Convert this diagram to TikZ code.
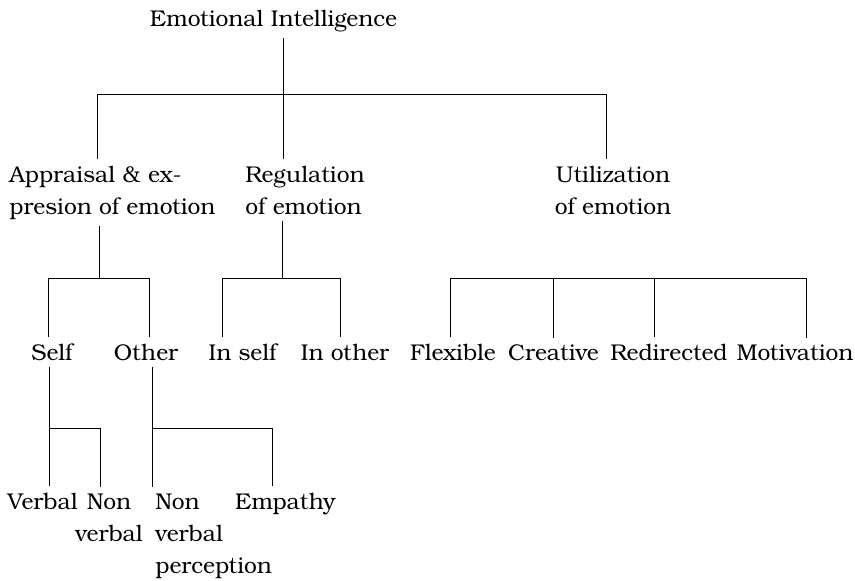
\documentclass[tikz,border=0pt]{standalone}
\usepackage{fontspec}
\setmainfont{TeX Gyre Bonum}
\usetikzlibrary{positioning,calc}
\begin{document}
\begin{tikzpicture}[
      x=0.5pt, y=-0.5pt,
      lbl/.style={inner xsep=0pt, inner ysep=3pt, font=\fontsize{11.4}{16}\selectfont},
      conn/.style={line width=0.4pt}]
    \useasboundingbox (0,0) rectangle (855,580);
    % labels (base = last line)
    \node[lbl, anchor=base] (emo) at (273.5,26) {Emotional Intelligence};
    \node[lbl, anchor=base west, align=left] (app) at (9,214) {Appraisal \& ex-\\presion of emotion};
    \node[lbl, anchor=base west, align=left] (reg) at (245,214) {Regulation\\of emotion};
    \node[lbl, anchor=base, align=center] (uti) at (613,214) {Utilization\\of emotion};
    \node[lbl, anchor=base] (self) at (52,360) {Self};
    \node[lbl, anchor=base] (oth) at (146,360) {Other};
    \node[lbl, anchor=base] (ins) at (242.5,360) {In self};
    \node[lbl, anchor=base] (ino) at (345,360) {In other};
    \node[lbl, anchor=base] (flex) at (453,360) {Flexible};
    \node[lbl, anchor=base] (crea) at (553.5,360) {Creative};
    \node[lbl, anchor=base] (redi) at (669,360) {Redirected};
    \node[lbl, anchor=base] (moti) at (795,360) {Motivation};
    \node[lbl, anchor=base] (verb) at (42.5,509) {Verbal};
    \node[lbl, anchor=base, align=center] (nvb) at (109,541) {Non\\verbal};
    \node[lbl, anchor=base west, align=left] (nvp) at (155,573) {Non\\verbal\\perception};
    \node[lbl, anchor=base] (emp) at (285.5,509) {Empathy};
    % junctions
    \coordinate (t1) at (97,94);
    \coordinate (t2) at (283,94);
    \coordinate (t3) at (606,94);
    \coordinate (a0) at (99,278);
    \coordinate (a1) at (48,278);
    \coordinate (a2) at (149,278);
    \coordinate (r0) at (282,278);
    \coordinate (r1) at (222,278);
    \coordinate (r2) at (340,278);
    \coordinate (u1) at (450,278);
    \coordinate (u2) at (553,278);
    \coordinate (u3) at (654,278);
    \coordinate (u4) at (806,278);
    \coordinate (s0) at (49,428);
    \coordinate (s1) at (100,428);
    \coordinate (o0) at (152,428);
    \coordinate (o1) at (272,428);
    % connectors
    \draw[conn] (t2 |- emo.south) -- (t2 |- reg.north);
    \draw[conn] (t1 |- app.north) -- (t1) -- (t3) -- (t3 |- uti.north);
    \draw[conn] (a0 |- app.south) -- (a0);
    \draw[conn] (a1 |- self.north) -- (a1) -- (a2) -- (a2 |- oth.north);
    \draw[conn] (r0 |- reg.south) -- (r0);
    \draw[conn] (r1 |- ins.north) -- (r1) -- (r2) -- (r2 |- ino.north);
    \draw[conn] (u1 |- flex.north) -- (u1) -- (u4) -- (u4 |- moti.north);
    \draw[conn] (u2) -- (u2 |- crea.north);
    \draw[conn] (u3) -- (u3 |- redi.north);
    \draw[conn] (s0 |- self.south) -- (s0 |- verb.north);
    \draw[conn] (s0) -- (s1) -- (s1 |- nvb.north);
    \draw[conn] (o0 |- oth.south) -- (o0 |- nvp.north);
    \draw[conn] (o0) -- (o1) -- (o1 |- emp.north);
  \end{tikzpicture}
\end{document}
